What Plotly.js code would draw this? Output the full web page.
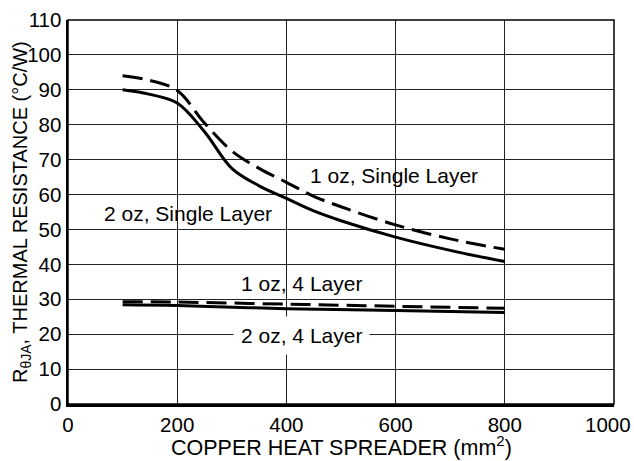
<!DOCTYPE html>
<html>
<head>
<meta charset="utf-8">
<script src="https://cdn.plot.ly/plotly-3.0.1.min.js"></script>
<style>html,body{margin:0;padding:0;background:#fff;}#chart{width:634px;height:461px;}</style>
</head>
<body>
<div id="chart"></div>
<script>
// Single-layer curves
const xSingle = [100, 150, 200, 250, 300, 350, 400, 450, 500, 600, 700, 800];
const oz1Single = [94, 92.7, 89.8, 80.5, 72.5, 67.5, 63.5, 59.5, 56.5, 51.3, 47.3, 44.3];
const oz2Single = [90, 88.7, 86.2, 78, 67.5, 62.5, 58.9, 55.3, 52.5, 47.8, 44, 40.8];
// 4-layer curves
const x4 = [100, 200, 400, 600, 800];
const oz1Four = [29.3, 29.2, 28.6, 28.0, 27.4];
const oz2Four = [28.4, 28.2, 27.3, 26.8, 26.2];
// x tick labels
const xTickVals = [0, 200, 400, 600, 800, 1000];
const xTickText = ["0", "200", "400", "600", "800", "1000"];

const labels = [
  {text: "1 oz, Single Layer", x: 597, y: 65.6, bg: null},
  {text: "2 oz, Single Layer", x: 219, y: 54.7, bg: null},
  {text: "1 oz, 4 Layer", x: 427, y: 34.6, bg: null},
  {text: "2 oz, 4 Layer", x: 427, y: 19.6, bg: "#ffffff"}
];
const xTitle = "COPPER HEAT SPREADER (mm<sup>2</sup>)";
const yTitle = "R<sub>θJA</sub>, THERMAL RESISTANCE (°C/W)";

const font = "Liberation Sans, Arial, Helvetica, sans-serif";
const lw = 3;
const traces = [
  {x: xSingle, y: oz1Single, mode: "lines", line: {color: "#000", width: lw, dash: "20px,8px", shape: "spline"}},
  {x: xSingle, y: oz2Single, mode: "lines", line: {color: "#000", width: lw, shape: "spline"}},
  {x: x4, y: oz1Four, mode: "lines", line: {color: "#000", width: lw, dash: "20px,8px", shape: "spline"}},
  {x: x4, y: oz2Four, mode: "lines", line: {color: "#000", width: lw, shape: "spline"}}
];

const plotW = 634 - 68 - 20;
const plotH = 461 - 20 - 57;
const nT = xTickVals.length;
// the edge label (1000) is drawn right-aligned so it stays inside the picture, as in the reference
const edgeVal = xTickVals[nT - 1], edgeText = xTickText[nT - 1];

const layout = {
  width: 634, height: 461,
  margin: {l: 68, r: 20, t: 20, b: 57},
  paper_bgcolor: "#fff", plot_bgcolor: "#fff",
  showlegend: false,
  font: {family: font, color: "#000", size: 20},
  xaxis: {
    range: [0, 1000], tickmode: "array",
    tickvals: xTickVals.slice(0, nT - 1), ticktext: xTickText.slice(0, nT - 1),
    showgrid: true, gridcolor: "#222", gridwidth: 1,
    showline: true, linecolor: "#000", linewidth: 2.5,
    zeroline: false, ticks: "", ticklen: 0,
    tickfont: {size: 20.5}, ticklabeloverflow: "allow", ticklabelstandoff: 1
  },
  yaxis: {
    range: [0, 110], dtick: 10, tick0: 0,
    showgrid: true, gridcolor: "#222", gridwidth: 1,
    showline: true, linecolor: "#000", linewidth: 2.5,
    zeroline: false, ticks: "", ticklen: 0,
    tickfont: {size: 20.5}, ticklabeloverflow: "allow"
  },
  shapes: [
    {type: "rect", xref: "paper", yref: "paper", x0: 0, x1: 1, y0: 0, y1: 1, line: {color: "#000", width: 1.5}, layer: "above"}
  ],
  annotations: labels.map(l => ({
    x: l.x, y: l.y, xref: "x", yref: "y", text: l.text, showarrow: false,
    font: {size: 21, family: font, color: "#000"},
    bgcolor: l.bg || "rgba(0,0,0,0)", borderpad: 7
  })).concat([
    {
      xref: "x", yref: "paper", x: edgeVal, y: -20.5 / plotH, xanchor: "right", yanchor: "middle",
      xshift: 18, text: edgeText, showarrow: false, borderpad: 0,
      font: {size: 20.5, family: font, color: "#000"}
    },
    {
      xref: "paper", yref: "paper", x: -47 / plotW, y: 0.5, xanchor: "center", yanchor: "middle",
      text: yTitle, textangle: -90, showarrow: false,
      font: {size: 20, family: font, color: "#000"}
    },
    {
      xref: "paper", yref: "paper", x: 0.5, y: -57 / plotH, xanchor: "center", yanchor: "bottom",
      text: xTitle, showarrow: false, borderpad: 0,
      font: {size: 21.5, family: font, color: "#000"}
    }
  ])
};

Plotly.newPlot("chart", traces, layout, {staticPlot: true, displayModeBar: false});
</script>
</body>
</html>
